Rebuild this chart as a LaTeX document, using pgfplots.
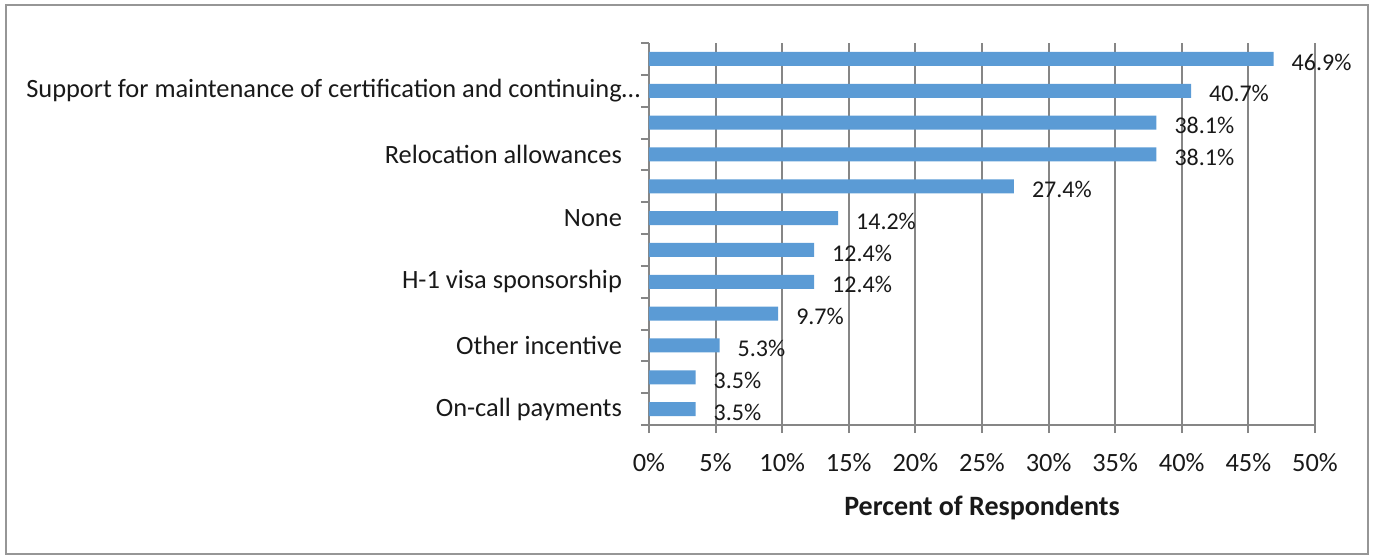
\documentclass[border=0pt]{standalone}
\usepackage{pgfplots}
\pgfplotsset{compat=1.18}
\usepackage{fontspec}
\setmainfont{Carlito}
\definecolor{barblue}{RGB}{91,155,213}
\definecolor{gridgray}{RGB}{134,134,134}
\definecolor{framegray}{RGB}{150,150,150}
\definecolor{txt}{RGB}{25,25,25}

\begin{document}
\begin{tikzpicture}
\path[use as bounding box] (-324.5pt,-66.5pt) rectangle (362pt,212.5pt);
\draw[framegray, line width=1pt] (-321.5pt,-64.5pt) rectangle (359.5pt,210pt);
\begin{axis}[
  at={(0,0)}, anchor=south west,
  scale only axis,
  width=333pt, height=191pt,
  xbar, bar width=7pt,
  xmin=0, xmax=50, ymin=0.5, ymax=12.5,
  axis lines*=left,
  axis line style={gridgray, line width=1pt},
  xtick={0,5,...,50},
  xticklabel={\pgfmathprintnumber{\tick}\%},
  xmajorgrids=true,
  grid style={gridgray, line width=1pt},
  tick style={gridgray, line width=1pt},
  tick align=outside,
  major tick length=4pt,
  ytick={0.5,1.5,...,12.5},
  yticklabels={},
  extra y ticks={1,3,5,7,9,11},
  extra y tick labels={On-call payments, Other incentive, H-1 visa sponsorship, None, Relocation allowances, Support for maintenance of certification and continuing\rlap{…}},
  extra y tick style={major tick length=0pt, yticklabel style={xshift=-10pt}},
  /pgf/number format/assume math mode=true,
  ticklabel style={font=\fontsize{13.2}{15}\selectfont, text=txt},
  xticklabel style={yshift=-6.5pt},
  xlabel={\textbf{Percent of Respondents}},
  xlabel style={font=\fontsize{14}{16}\selectfont, text=txt, at={(axis description cs:0.5,0)}, anchor=center, yshift=-41.5pt},
  point meta=x,
  nodes near coords={\pgfmathprintnumber[fixed,precision=1,fixed zerofill]{\pgfplotspointmeta}\%},
  nodes near coords style={font=\fontsize{12}{14}\selectfont, text=txt, anchor=west, xshift=5.5pt, yshift=-1.5pt},
]
\addplot[fill=barblue, draw=none] coordinates {
  (3.5,1) (3.5,2) (5.3,3) (9.7,4) (12.4,5) (12.4,6)
  (14.2,7) (27.4,8) (38.1,9) (38.1,10) (40.7,11) (46.9,12)
};
\end{axis}
\end{tikzpicture}
\end{document}
